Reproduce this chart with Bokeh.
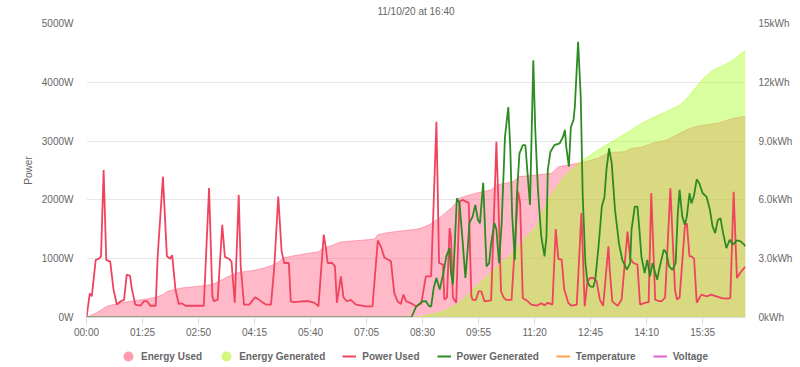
from bokeh.plotting import figure
from bokeh.layouts import column
from bokeh.models import (Range1d, LinearAxis, FixedTicker, PrintfTickFormatter,
                          Legend, LegendItem, ColumnDataSource)
from bokeh.embed import file_html
from bokeh.resources import INLINE

NaN = float("nan")

# ---------------- data (minutes since 00:00) ----------------
power_used_t = [0, 5, 8, 14, 19, 22, 26, 30, 36, 41, 46, 52, 57, 61, 66, 69, 74, 82, 87, 92, 97, 105,
                108, 116, 122, 127, 130, 135, 140, 145, 150, 171, 178, 186, 191, 193, 199, 206, 210,
                216, 220, 225, 231, 234, 239, 247, 256, 262, 272, 280, 285, 291, 296, 300, 307, 310,
                315, 328, 338, 346, 352, 360, 363, 366, 373, 377, 380, 386, 390, 395, 401, 409, 424,
                434, 442, 447, 452, 462, 467, 472, 477, 481, 485, 493, 500, 508, 515, 523, 531, 535,
                541, 543, 547, 551, 553, 556, 561, 566, 571, 576, 580, 584, 586, 591, 595, 599, 604,
                614, 622, 626, 629, 633, 637, 645, 655, 658, 662, 668, 675, 683, 690, 695, 700, 707,
                712, 716, 721, 725, 731, 736, 744, 751, 756, 760, 764, 769, 774, 779, 784, 792, 794,
                798, 806, 812, 821, 825, 830, 836, 840, 847, 853, 857, 863, 868, 873, 878, 886, 893,
                896, 900, 908, 911, 915, 918, 922, 926, 933, 941, 948, 956, 964, 971, 977, 982, 987,
                992, 997, 1000]
power_used_w = [0, 410, 360, 980, 1000, 1040, 2510, 980, 950, 475, 220, 276, 300, 730, 710, 475, 220,
                200, 276, 276, 200, 200, 1040, 2395, 1040, 1000, 1060, 475, 230, 240, 200, 200, 200,
                2200, 360, 280, 300, 1576, 1030, 1000, 950, 250, 2085, 870, 220, 220, 345, 300, 220,
                220, 870, 2056, 1130, 927, 927, 276, 260, 276, 276, 250, 190, 1407, 1200, 927, 927,
                870, 250, 700, 340, 276, 300, 220, 190, 190, 1310, 1200, 1020, 955, 420, 276, 230,
                390, 276, 240, 190, 240, 700, 700, 3327, 927, 900, 305, 340, 1520, 1380, 340, 250,
                1972, 2000, 1970, 1950, 360, 300, 300, 446, 446, 276, 290, 2990, 1620, 446, 340, 300,
                300, 2140, 1950, 333, 290, 220, 200, 240, 210, 250, 220, 1503, 995, 985, 475, 250,
                200, 220, 1775, 190, 600, 672, 672, 620, 305, 200, 1210, 800, 270, 200, 305, 1460,
                1000, 927, 900, 220, 250, 260, 2113, 305, 280, 280, 340, 2198, 475, 305, 340, 1548,
                1600, 1040, 1040, 1000, 250, 390, 360, 390, 360, 330, 320, 330, 2140, 672, 760, 830,
                860]

power_gen_t = [0, 493, 500, 510, 515, 520, 523, 527, 531, 536, 541, 546, 551, 553, 556, 562, 566, 571,
               575, 579, 581, 586, 590, 594, 597, 602, 607, 611, 614, 619, 622, 626, 630, 635, 640,
               643, 646, 650, 653, 657, 662, 666, 670, 673, 678, 681, 685, 690, 695, 698, 700, 704,
               710, 718, 723, 726, 728, 732, 735, 739, 741, 746, 750, 753, 757, 760, 764, 769, 772,
               777, 782, 786, 789, 793, 797, 802, 808, 813, 820, 825, 827, 832, 836, 839, 842, 847,
               851, 855, 859, 863, 866, 870, 876, 880, 884, 889, 894, 897, 900, 904, 908, 911, 915,
               918, 922, 926, 930, 935, 941, 946, 950, 954, 958, 962, 966, 971, 976, 981, 987, 992,
               998, 1000]
power_gen_w = [0, 0, 180, 276, 276, 190, 190, 510, 672, 475, 730, 1040, 1180, 770, 560, 2028, 1950,
               1260, 672, 1240, 1605, 1720, 1915, 1660, 1600, 2293, 870, 925, 1260, 1605, 1500, 925,
               1600, 3070, 3580, 2900, 1720, 983, 2070, 2790, 2930, 2930, 2340, 1915, 4373, 3190,
               2180, 1390, 1040, 1380, 2510, 2820, 2930, 2960, 3070, 3190, 2900, 2565, 3240, 3356,
               3580, 4690, 3750, 2070, 927, 615, 530, 520, 640, 1210, 1887, 2050, 2510, 2876, 2620,
               1830, 1260, 980, 814, 925, 1490, 1887, 1887, 1490, 1040, 757, 980, 700, 925, 760, 644,
               870, 1153, 1100, 870, 810, 925, 1720, 2170, 1720, 1576, 1720, 2113, 1940, 2085, 2350,
               2280, 2113, 2050, 1830, 1550, 1435, 1660, 1690, 1435, 1180, 1320, 1240, 1310, 1300,
               1240, 1210]

energy_used_t = [0, 16, 31, 52, 67, 92, 107, 116, 123, 133, 143, 171, 190, 196, 216, 231, 253, 270,
                 285, 292, 300, 310, 335, 352, 360, 370, 386, 420, 437, 442, 452, 470, 500, 508, 520,
                 535, 556, 566, 591, 614, 622, 647, 657, 683, 706, 716, 746, 756, 776, 792, 817, 827,
                 842, 857, 880, 890, 910, 920, 935, 960, 980, 1000]
energy_used_kwh = [0, 0.26, 0.57, 0.75, 0.83, 0.95, 1.05, 1.17, 1.34, 1.42, 1.50, 1.60, 1.68, 1.76,
                   2.10, 2.30, 2.40, 2.53, 2.70, 2.85, 3.05, 3.12, 3.27, 3.35, 3.55, 3.65, 3.85, 3.95,
                   4.00, 4.22, 4.30, 4.39, 4.50, 4.56, 4.73, 5.07, 5.66, 6.10, 6.34, 6.51, 6.76, 6.93,
                   7.19, 7.27, 7.36, 7.69, 7.87, 7.95, 8.12, 8.41, 8.46, 8.63, 8.68, 8.88, 9.05, 9.22,
                   9.56, 9.70, 9.81, 9.93, 10.15, 10.27]

energy_gen_t = [0, 493, 510, 528, 545, 566, 580, 591, 605, 617, 642, 668, 683, 700, 725, 750, 776,
                802, 827, 842, 860, 885, 900, 911, 936, 950, 962, 980, 987, 1000]
energy_gen_kwh = [0, 0, 0.05, 0.2, 0.35, 0.75, 1.2, 1.59, 2.0, 2.44, 3.12, 4.13, 4.64, 6.0, 7.19,
                  7.95, 8.54, 9.05, 9.56, 9.90, 10.2, 10.58, 10.83, 11.17, 12.19, 12.6, 12.78, 13.1,
                  13.29, 13.63]

# series shown only in the legend (no readings plotted)
temperature_t, temperature_v = [NaN], [NaN]
voltage_t, voltage_v = [NaN], [NaN]

x_ticks = [0, 85, 170, 255, 340, 425, 510, 595, 680, 765, 850, 935]
x_tick_labels = ["00:00", "01:25", "02:50", "04:15", "05:40", "07:05", "08:30", "09:55",
                 "11:20", "12:45", "14:10", "15:35"]
power_ticks = [0, 1000, 2000, 3000, 4000, 5000]
energy_ticks = [0, 3, 6, 9, 12, 15]
energy_tick_labels = ["0kWh", "3.0kWh", "6.0kWh", "9.0kWh", "12kWh", "15kWh"]

FONT = "Liberation Sans"
GREY = "#666666"
C_EU_FILL, C_EG_FILL = "#FF6384", "#ADFF2F"
C_EU_DOT, C_EG_DOT = "#FF9CB0", "#D2F77C"
C_PU, C_PG, C_T, C_V = "#F0435E", "#2E8B22", "#FF9F40", "#E75FCB"

W = 798
main = figure(width=W, height=340, output_backend="svg", toolbar_location=None,
              x_range=Range1d(0, 1000), y_range=Range1d(0, 5000),
              title="11/10/20 at 16:40",
              min_border_left=86, min_border_right=53, min_border_top=23, min_border_bottom=22)
main.extra_y_ranges = {"energy": Range1d(0, 15)}
main.outline_line_color = None
main.border_fill_color = "white"

main.title.align = "center"
main.title.vertical_align = "top"
main.title.text_font = FONT
main.title.text_font_size = "10px"
main.title.text_font_style = "normal"
main.title.text_color = GREY
main.title.standoff = 10

# energy areas
eu = ColumnDataSource(dict(t=energy_used_t, e=energy_used_kwh))
eg = ColumnDataSource(dict(t=energy_gen_t, e=energy_gen_kwh))
main.varea(x="t", y1=0, y2="e", source=eu, y_range_name="energy",
           fill_color=C_EU_FILL, fill_alpha=0.45)
main.line(x="t", y="e", source=eu, y_range_name="energy", line_color=C_EU_FILL,
          line_alpha=0.5, line_width=1)
main.varea(x="t", y1=0, y2="e", source=eg, y_range_name="energy",
           fill_color=C_EG_FILL, fill_alpha=0.46)
main.line(x="t", y="e", source=eg, y_range_name="energy", line_color=C_EG_FILL,
          line_alpha=0.6, line_width=1)

# power lines
pu = ColumnDataSource(dict(t=power_used_t, w=power_used_w))
pg = ColumnDataSource(dict(t=power_gen_t, w=power_gen_w))
main.line(x="t", y="w", source=pu, line_color=C_PU, line_width=1.8)
main.line(x="t", y="w", source=pg, line_color=C_PG, line_width=1.8)
main.line(x=temperature_t, y=temperature_v, line_color=C_T, line_width=2)
main.line(x=voltage_t, y=voltage_v, line_color=C_V, line_width=2)

# axes
xa = main.xaxis[0]
xa.ticker = FixedTicker(ticks=x_ticks)
xa.major_label_overrides = {t: l for t, l in zip(x_ticks, x_tick_labels)}
xa.axis_line_color = "#DDDDDD"
xa.major_tick_line_color = "#DDDDDD"
xa.major_tick_out = 7
xa.major_tick_in = 0
xa.minor_tick_line_color = None
xa.major_label_text_font = FONT
xa.major_label_text_font_size = "10px"
xa.major_label_text_color = GREY
xa.major_label_standoff = 2

ya = main.yaxis[0]
ya.ticker = FixedTicker(ticks=power_ticks)
ya.formatter = PrintfTickFormatter(format="%dW")
ya.axis_line_color = None
ya.major_tick_line_color = None
ya.major_tick_out = 0
ya.major_tick_in = 0
ya.minor_tick_line_color = None
ya.major_label_text_font = FONT
ya.major_label_text_font_size = "10px"
ya.major_label_text_color = GREY
ya.major_label_standoff = 13
ya.axis_label = "Power"
ya.axis_label_text_font = FONT
ya.axis_label_text_font_size = "10px"
ya.axis_label_text_font_style = "normal"
ya.axis_label_text_color = GREY
ya.axis_label_standoff = 5

ra = LinearAxis(y_range_name="energy", ticker=FixedTicker(ticks=energy_ticks))
ra.major_label_overrides = {t: l for t, l in zip(energy_ticks, energy_tick_labels)}
ra.axis_line_color = None
ra.major_tick_line_color = None
ra.major_tick_out = 0
ra.major_tick_in = 0
ra.minor_tick_line_color = None
ra.major_label_text_font = FONT
ra.major_label_text_font_size = "10px"
ra.major_label_text_color = GREY
ra.major_label_standoff = 13
main.add_layout(ra, "right")

main.xgrid.grid_line_color = None
main.ygrid.ticker = FixedTicker(ticks=power_ticks)
main.ygrid.grid_line_color = "#E6E6E6"
main.ygrid.grid_line_width = 1

# ---------------- legend strip ----------------
leg = figure(width=W, height=26, output_backend="svg", toolbar_location=None,
             x_range=Range1d(0, 1), y_range=Range1d(0, 1),
             x_axis_type=None, y_axis_type=None,
             min_border_left=0, min_border_right=0, min_border_top=0, min_border_bottom=0)
leg.outline_line_color = None
leg.xgrid.visible = False
leg.ygrid.visible = False
leg.border_fill_color = "white"

l_eu = leg.scatter(x=[NaN], y=[NaN], marker="circle", size=6, fill_color=C_EU_DOT,
                   line_color=C_EU_DOT, line_width=4.5)
l_eg = leg.scatter(x=[NaN], y=[NaN], marker="circle", size=6, fill_color=C_EG_DOT,
                   line_color=C_EG_DOT, line_width=4.5)
l_pu = leg.line(x=[NaN], y=[NaN], line_color=C_PU, line_width=2)
l_pg = leg.line(x=[NaN], y=[NaN], line_color=C_PG, line_width=2)
l_t = leg.line(x=[NaN], y=[NaN], line_color=C_T, line_width=2)
l_v = leg.line(x=[NaN], y=[NaN], line_color=C_V, line_width=2)

legend = Legend(items=[
    LegendItem(label="Energy Used", renderers=[l_eu]),
    LegendItem(label="Energy Generated", renderers=[l_eg]),
    LegendItem(label="Power Used", renderers=[l_pu]),
    LegendItem(label="Power Generated", renderers=[l_pg]),
    LegendItem(label="Temperature", renderers=[l_t]),
    LegendItem(label="Voltage", renderers=[l_v]),
], orientation="horizontal", location=(35, 3))
legend.label_text_font = FONT
legend.label_text_font_size = "10px"
legend.label_text_font_style = "bold"
legend.label_text_color = GREY
legend.glyph_width = 14
legend.glyph_height = 14
legend.label_standoff = 6
legend.spacing = 17
legend.padding = 0
legend.margin = 0
legend.border_line_color = None
legend.background_fill_alpha = 0
leg.add_layout(legend, "center")

p = column(main, leg, spacing=0)

open("out.html", "w").write(file_html(p, INLINE))
